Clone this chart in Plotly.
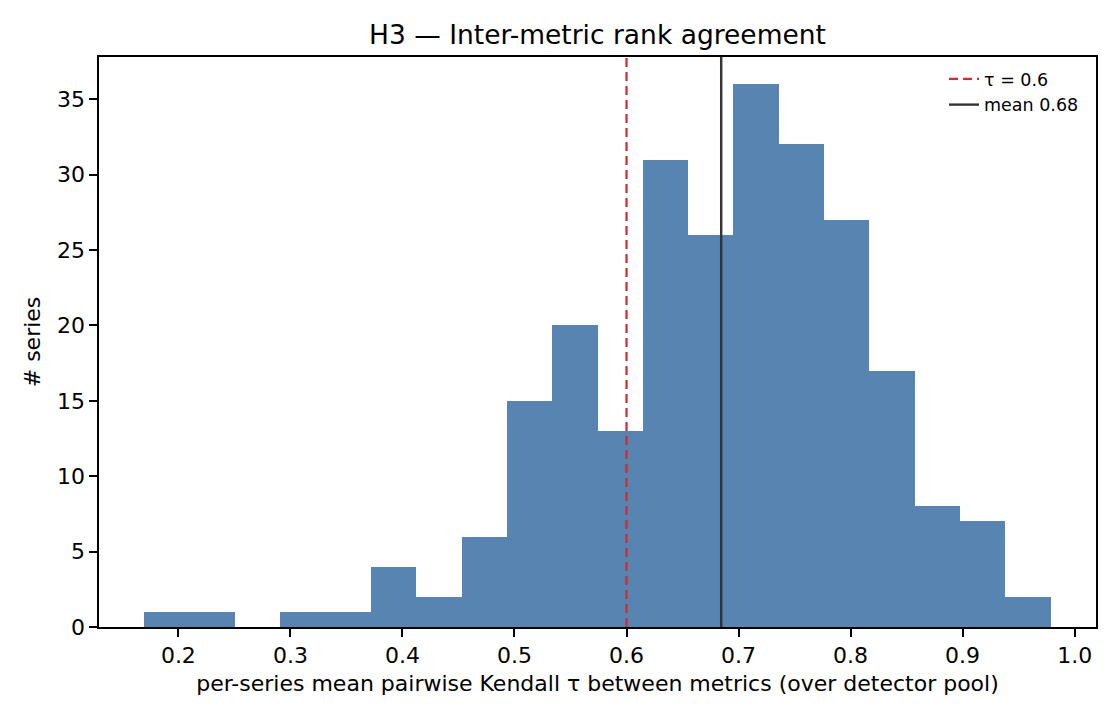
import plotly.graph_objects as go

# Histogram data
bin_start = 0.1696
bin_width = 0.04045
counts = [1, 1, 0, 1, 1, 4, 2, 6, 15, 20, 13, 31, 26, 36, 32, 27, 17, 8, 7, 2]
tau_threshold = 0.6
mean_tau = 0.6845

left_edges = [bin_start + i * bin_width for i in range(len(counts))]
x_lo = bin_start - 0.05 * bin_width * len(counts)
x_hi = bin_start + 1.05 * bin_width * len(counts)
y_hi = max(counts) * 1.05

font = "DejaVu Sans, Verdana, sans-serif"

fig = go.Figure()
fig.add_trace(go.Bar(
    x=left_edges, y=counts, width=bin_width, offset=0,
    marker=dict(color="#5884B1", line=dict(width=0)),
    showlegend=False, hoverinfo="x+y",
))

fig.add_shape(type="line", x0=tau_threshold, x1=tau_threshold, y0=0, y1=1,
              xref="x", yref="paper",
              line=dict(color="#cf2a30", width=2.2, dash="9px,5px"),
              showlegend=True, name=f"τ = {tau_threshold}")
fig.add_shape(type="line", x0=mean_tau, x1=mean_tau, y0=0, y1=1,
              xref="x", yref="paper",
              line=dict(color="#333333", width=2.4),
              showlegend=True, name="mean %.2f" % 0.68)

axis_common = dict(
    showline=True, linecolor="black", linewidth=1.8, mirror=True,
    ticks="outside", ticklen=7.8, tickwidth=1.8, tickcolor="black",
    showgrid=False, zeroline=False,
    tickfont=dict(family=font, size=22, color="black"),
)

fig.update_layout(
    width=1120, height=720,
    margin=dict(l=99, r=24, t=57, b=93),
    paper_bgcolor="white", plot_bgcolor="white",
    font=dict(family=font, color="black"),
    title=dict(text="H3 — Inter-metric rank agreement", x=0.5, xanchor="center", xref="paper",
               y=1 - 35 / 720, yanchor="middle",
               font=dict(family=font, size=26.5, color="black")),
    xaxis=dict(range=[x_lo, x_hi], tickvals=[0.2, 0.3, 0.4, 0.5, 0.6, 0.7, 0.8, 0.9, 1.0],
               tickformat=".1f",
               title=dict(text="per-series mean pairwise Kendall τ between metrics (over detector pool)",
                          font=dict(family=font, size=22), standoff=9),
               **axis_common),
    yaxis=dict(range=[0, y_hi], tickvals=[0, 5, 10, 15, 20, 25, 30, 35],
               title=dict(text="# series", font=dict(family=font, size=22), standoff=10),
               **axis_common),
    legend=dict(x=0.988, y=0.993, xanchor="right", yanchor="top",
                bgcolor="rgba(0,0,0,0)", borderwidth=0,
                font=dict(family=font, size=17.5, color="black"),
                tracegroupgap=1),
    bargap=0,
)

fig.write_html("out.html")
